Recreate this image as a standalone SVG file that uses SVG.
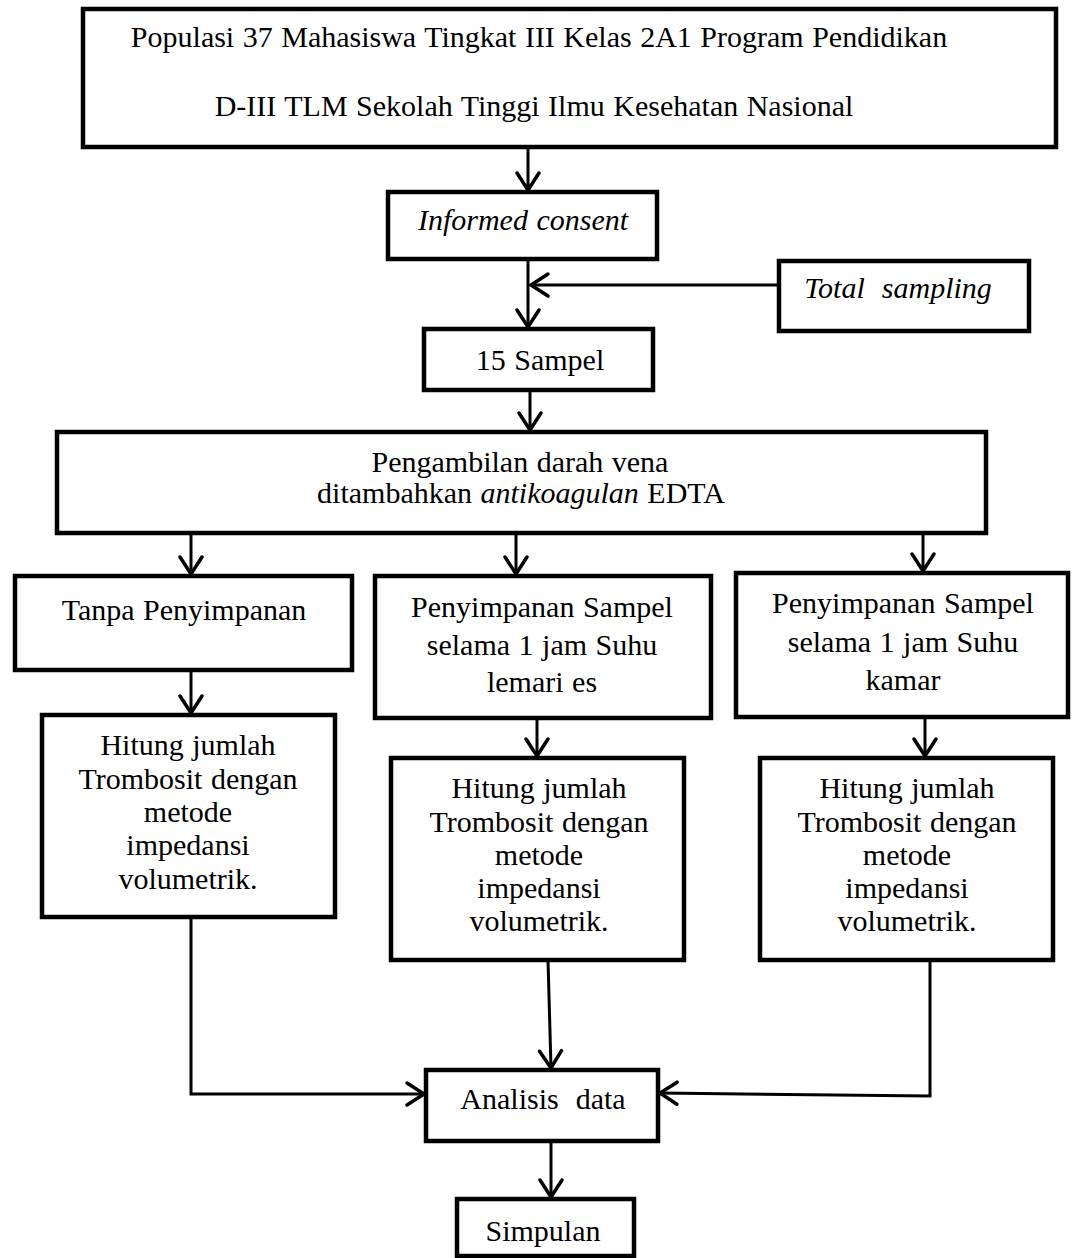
<svg xmlns="http://www.w3.org/2000/svg" width="1072" height="1258" viewBox="0 0 1072 1258">
<defs>
<marker id="arr" markerUnits="userSpaceOnUse" markerWidth="24" markerHeight="28" viewBox="0 0 24 28" refX="20" refY="14" orient="auto">
<path d="M3,3 L20,14 L3,25" fill="none" stroke="#000" stroke-width="3.5" stroke-linecap="round" stroke-linejoin="miter"/>
</marker>
<style>
.box{fill:#fff;stroke:#000;stroke-width:4.5}
.c{fill:none;stroke:#000;stroke-width:3}
text{font-family:"Liberation Serif","Times New Roman",serif;font-size:30px;word-spacing:1px;fill:#000;text-anchor:middle}
.i{font-style:italic}
</style>
</defs>
<rect width="1072" height="1258" fill="#fff"/>
<g id="connectors">
<path class="c" d="M528,147 V190" marker-end="url(#arr)"/>
<path class="c" d="M528,259 V327" marker-end="url(#arr)"/>
<path class="c" d="M779,285 H531" marker-end="url(#arr)"/>
<path class="c" d="M530,390 V430" marker-end="url(#arr)"/>
<path class="c" d="M191,533 V574" marker-end="url(#arr)"/>
<path class="c" d="M516,533 V574" marker-end="url(#arr)"/>
<path class="c" d="M923,533 V571" marker-end="url(#arr)"/>
<path class="c" d="M191,670 V713" marker-end="url(#arr)"/>
<path class="c" d="M537,718 V756" marker-end="url(#arr)"/>
<path class="c" d="M925,717 V756" marker-end="url(#arr)"/>
<path class="c" d="M191,917 V1094 H424" marker-end="url(#arr)"/>
<path class="c" d="M548,960 L551,1068" marker-end="url(#arr)"/>
<path class="c" d="M930,960 V1096 L660,1093" marker-end="url(#arr)"/>
<path class="c" d="M551,1141 V1197" marker-end="url(#arr)"/>
</g>
<g id="n1"><rect class="box" x="83" y="9" width="973" height="138"/>
<text x="539" y="47">Populasi 37 Mahasiswa Tingkat III Kelas 2A1 Program Pendidikan</text>
<text x="534" y="116">D-III TLM Sekolah Tinggi Ilmu Kesehatan Nasional</text></g>
<g id="n2"><rect class="box" x="388" y="192" width="269" height="67"/>
<text class="i" x="523" y="230">Informed consent</text></g>
<g id="n3"><rect class="box" x="779" y="261" width="250" height="70"/>
<text class="i" x="898" y="298" xml:space="preserve">Total  sampling</text></g>
<g id="n4"><rect class="box" x="424" y="329" width="229" height="61"/>
<text x="540" y="370">15 Sampel</text></g>
<g id="n5"><rect class="box" x="57" y="432" width="929" height="101"/>
<text x="520" y="472">Pengambilan darah vena</text>
<text x="521" y="503">ditambahkan <tspan class="i">antikoagulan</tspan> EDTA</text></g>
<g id="n6"><rect class="box" x="15" y="576" width="337" height="94"/>
<text x="184" y="620">Tanpa Penyimpanan</text></g>
<g id="n7"><rect class="box" x="375" y="576" width="336" height="142"/>
<text x="542" y="617">Penyimpanan Sampel</text>
<text x="542" y="655">selama 1 jam Suhu</text>
<text x="542" y="692">lemari es</text></g>
<g id="n8"><rect class="box" x="736" y="573" width="332" height="144"/>
<text x="903" y="613">Penyimpanan Sampel</text>
<text x="903" y="652">selama 1 jam Suhu</text>
<text x="903" y="690">kamar</text></g>
<g id="n9"><rect class="box" x="42" y="715" width="293" height="202"/>
<text x="188" y="755">Hitung jumlah</text>
<text x="188" y="789">Trombosit dengan</text>
<text x="188" y="822">metode</text>
<text x="188" y="855">impedansi</text>
<text x="188" y="889">volumetrik.</text></g>
<g id="n10"><rect class="box" x="391" y="758" width="293" height="202"/>
<text x="539" y="798">Hitung jumlah</text>
<text x="539" y="832">Trombosit dengan</text>
<text x="539" y="865">metode</text>
<text x="539" y="898">impedansi</text>
<text x="539" y="931">volumetrik.</text></g>
<g id="n11"><rect class="box" x="760" y="758" width="293" height="202"/>
<text x="907" y="798">Hitung jumlah</text>
<text x="907" y="832">Trombosit dengan</text>
<text x="907" y="865">metode</text>
<text x="907" y="898">impedansi</text>
<text x="907" y="931">volumetrik.</text></g>
<g id="n12"><rect class="box" x="426" y="1070" width="232" height="71"/>
<text x="543" y="1109" xml:space="preserve">Analisis  data</text></g>
<g id="n13"><rect class="box" x="457" y="1199" width="177" height="57"/>
<text x="543" y="1241">Simpulan</text></g>
</svg>
